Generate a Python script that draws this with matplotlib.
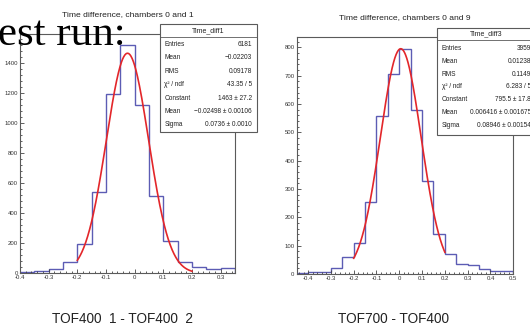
import numpy as np
import matplotlib.pyplot as plt
from matplotlib.patches import Rectangle
from matplotlib.lines import Line2D
from matplotlib.ticker import MultipleLocator, FuncFormatter

W, H = 530, 326
SANS = ["Liberation Sans", "DejaVu Sans"]
HIST_COL = "#5c5cb4"
FIT_COL = "#e3262a"
FRAME_COL = "#5a5a5a"

# Time_diff1: bins of 0.05 starting at -0.4
left_lo, left_bw = -0.4, 0.05
left_counts = [8, 15, 30, 75, 193, 538, 1193, 1515, 1122, 516, 216, 78, 44, 29, 36]
left_fit = {"const": 1463, "mean": -0.02498, "sigma": 0.0736, "lo": -0.2, "hi": 0.2}
left_xticks = [-0.4, -0.3, -0.2, -0.1, 0, 0.1, 0.2, 0.3]
left_yticks = [0, 200, 400, 600, 800, 1000, 1200, 1400]
left_names = ["Entries", "Mean", "RMS", "χ² / ndf", "Constant", "Mean", "Sigma"]
left_values = ["6181", "\u22120.02203", "0.09178", "43.35 / 5", "1463 ± 27.2",
               "\u22120.02498 ± 0.00106", "0.0736 ± 0.0010"]

# Time_diff3: bins of 0.05 starting at -0.45
right_lo, right_bw = -0.45, 0.05
right_counts = [3, 6, 8, 20, 60, 111, 254, 558, 707, 796, 579, 329, 140, 72, 35, 32, 19, 12, 12]
right_fit = {"const": 795.5, "mean": 0.006416, "sigma": 0.08946, "lo": -0.2, "hi": 0.2}
right_xticks = [-0.4, -0.3, -0.2, -0.1, 0, 0.1, 0.2, 0.3, 0.4, 0.5]
right_yticks = [0, 100, 200, 300, 400, 500, 600, 700, 800]
right_names = left_names
right_values = ["3959", "0.01238", "0.1149", "6.283 / 5", "795.5 ± 17.8",
                "0.006416 ± 0.001675", "0.08946 ± 0.00154"]

fig = plt.figure(figsize=(W / 100, H / 100), dpi=100)


def fx(x):
    return x / W


def fy(y):
    return 1 - y / H


def tick_fmt(v, _):
    s = f"{v:.1f}".rstrip("0").rstrip(".")
    return "0" if s in ("-0", "0") else s


def panel(frame, xlim, ylim, xticks, yticks, yminor, lo, bw, counts, fit):
    x0, y0, x1, y1 = frame
    ax = fig.add_axes([fx(x0), fy(y1), fx(x1) - fx(x0), fy(y0) - fy(y1)])
    edges = lo + bw * np.arange(len(counts) + 1)
    ax.stairs(counts, edges, color=HIST_COL, lw=1.0)
    xs = np.linspace(fit["lo"], fit["hi"], 300)
    ys = fit["const"] * np.exp(-0.5 * ((xs - fit["mean"]) / fit["sigma"]) ** 2)
    ax.plot(xs, ys, color=FIT_COL, lw=1.2)
    ax.set_xlim(*xlim)
    ax.set_ylim(*ylim)
    ax.set_xticks(xticks)
    ax.set_yticks(yticks)
    ax.xaxis.set_minor_locator(MultipleLocator(0.02))
    ax.yaxis.set_minor_locator(MultipleLocator(yminor))
    ax.xaxis.set_major_formatter(FuncFormatter(tick_fmt))
    ax.yaxis.set_major_formatter(FuncFormatter(lambda v, _: f"{v:.0f}"))
    ax.tick_params(which="both", direction="in", top=False, right=False,
                   width=0.6, color="#444444", labelsize=4.3, pad=1.5,
                   labelcolor="#333333")
    ax.tick_params(which="major", length=2.6)
    ax.tick_params(which="minor", length=1.4)
    for lab in ax.get_xticklabels() + ax.get_yticklabels():
        lab.set_family(SANS)
    for sp in ax.spines.values():
        sp.set_color(FRAME_COL)
        sp.set_linewidth(0.8)
    return ax


def stats_box(box, title, names, values, head_y, sep_y, row0, dy, xl, xr):
    bx0, by0, bx1, by1 = box
    fig.add_artist(Rectangle((fx(bx0), fy(by1)), fx(bx1) - fx(bx0), fy(by0) - fy(by1),
                             transform=fig.transFigure, facecolor="white",
                             edgecolor=FRAME_COL, lw=0.8, zorder=5))
    fig.add_artist(Line2D([fx(bx0), fx(bx1)], [fy(sep_y), fy(sep_y)],
                          transform=fig.transFigure, color=FRAME_COL, lw=0.6, zorder=6))
    fig.text(fx((bx0 + bx1) / 2), fy(head_y), title, ha="center", va="center",
             fontsize=5.0, family=SANS, color="#222222", zorder=7)
    for i, (n, v) in enumerate(zip(names, values)):
        y = fy(row0 + dy * i)
        fig.text(fx(xl), y, n, ha="left", va="center", fontsize=4.7,
                 family=SANS, color="#222222", zorder=7)
        fig.text(fx(xr), y, v, ha="right", va="center", fontsize=4.7,
                 family=SANS, color="#222222", zorder=7)


panel((20, 34, 235, 273.3), (-0.4, 0.35), (0, 1591), left_xticks, left_yticks, 40,
      left_lo, left_bw, left_counts, left_fit)
panel((296.7, 36.7, 513.3, 274), (-0.45, 0.5), (0, 838), right_xticks, right_yticks, 20,
      right_lo, right_bw, right_counts, right_fit)

fig.text(fx(128), fy(15), "Time difference, chambers 0 and 1", ha="center", va="center",
         fontsize=6.1, family=SANS, color="#222222")
fig.text(fx(405), fy(18), "Time difference, chambers 0 and 9", ha="center", va="center",
         fontsize=6.1, family=SANS, color="#222222")

stats_box((160, 24, 257, 132), "Time_diff1", left_names, left_values,
          30.5, 36.5, 44.5, 13.4, 164.3, 251.7)
stats_box((437.3, 28.3, 536, 135), "Time_diff3", right_names, right_values,
          34, 39.5, 48.3, 12.9, 441.7, 531)

fig.text(fx(122.5), fy(323), "TOF400  1 - TOF400  2", ha="center", va="baseline",
         fontsize=9.8, family=SANS, color="#222222")
fig.text(fx(393), fy(323), "TOF700 - TOF400", ha="center", va="baseline",
         fontsize=9.8, family=SANS, color="#222222")

fig.text(fx(-1.5), fy(45), "est run:", ha="left", va="baseline", fontsize=31,
         family=["Liberation Serif", "DejaVu Serif"], color="black", zorder=8)

fig.savefig("out.png", dpi=100)
